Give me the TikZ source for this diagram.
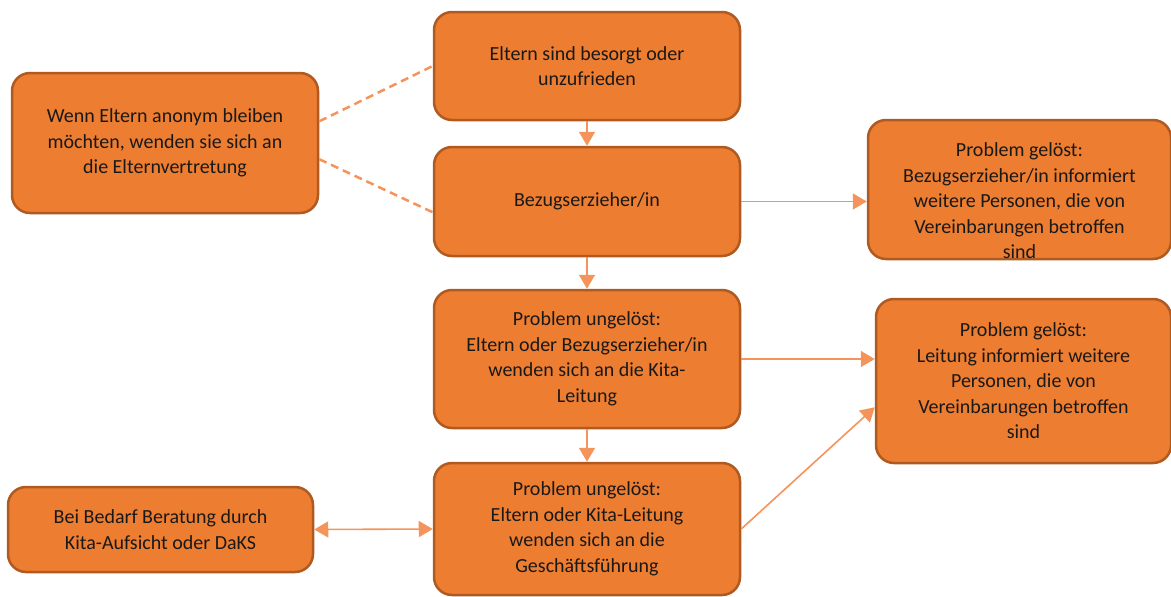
\documentclass[tikz,border=0pt]{standalone}
\usepackage{fontspec}
\setmainfont{Carlito}
\usepackage{tikz}
\usetikzlibrary{arrows.meta}
\definecolor{boxfill}{HTML}{ED7D31}
\definecolor{boxline}{HTML}{AE5A21}
\definecolor{linkcol}{HTML}{F4945A}

\tikzset{
  stepbox/.style={draw=boxline, fill=boxfill, line width=2.5pt, rounded corners=18pt,
    align=center, inner sep=4pt, text=black!90, font=\fontsize{20}{25.5}\selectfont},
  flow/.style={draw=linkcol, line width=1.6pt, -{Triangle[length=14pt,width=16pt]}},
  anon/.style={draw=linkcol, line width=2.5pt, dash pattern=on 8pt off 5pt}
}

\begin{document}
\begin{tikzpicture}[x=1pt, y=-1pt]
        \useasboundingbox (0,0) rectangle (1171,597);
        % middle column
        \node[stepbox, minimum width=306pt, minimum height=108pt] (besorgt) at (587,66) {Eltern sind besorgt oder\\unzufrieden};
        \node[stepbox, minimum width=306pt, minimum height=109pt] (bezug) at (587,201.5) {Bezugserzieher/in};
        \node[stepbox, minimum width=306pt, minimum height=138pt] (leitung) at (587,359) {Problem ungelöst:\\Eltern oder Bezugserzieher/in\\wenden sich an die Kita-\\Leitung};
        \node[stepbox, minimum width=306pt, minimum height=132pt] (gf) at (587,529) {Problem ungelöst:\\Eltern oder Kita-Leitung\\wenden sich an die\\Geschäftsführung};
        % left column
        \node[stepbox, minimum width=306pt, minimum height=140pt] (anonym) at (165,143) {Wenn Eltern anonym bleiben\\möchten, wenden sie sich an\\die Elternvertretung};
        \node[stepbox, minimum width=305pt, minimum height=85pt] (beratung) at (160.5,529.5) {Bei Bedarf Beratung durch\\Kita-Aufsicht oder DaKS};
        % right column (text sits low in the first one)
        \node[stepbox, minimum width=303pt, minimum height=139pt] (geloest1) at (1019.5,189.5) {\raisebox{-13pt}[\height][\depth]{\begin{tabular}{@{}c@{}}Problem gelöst:\\Bezugserzieher/in informiert\\weitere Personen, die von\\Vereinbarungen betroffen\\sind\end{tabular}}};
        \node[stepbox, minimum width=295pt, minimum height=164pt] (geloest2) at (1023.5,381) {Problem gelöst:\\Leitung informiert weitere\\Personen, die von\\Vereinbarungen betroffen\\sind};

        \draw[flow] (besorgt) -- (bezug);
        \draw[flow] (bezug) -- (leitung);
        \draw[flow] (leitung) -- (gf);
        \draw[flow] (bezug.east) -- (bezug.east -| geloest1.west);
        \draw[flow] (leitung.east) -- (leitung.east -| geloest2.west);
        \draw[flow] (gf.east) -- (geloest2.190);
        \draw[flow, {Triangle[length=14pt,width=16pt]}-{Triangle[length=14pt,width=16pt]}] (beratung.east) -- (gf.west);
        \draw[anon] (anonym.8) -- (besorgt.west);
        \draw[anon] (anonym.-6) -- (bezug.184);
      \end{tikzpicture}
\end{document}
